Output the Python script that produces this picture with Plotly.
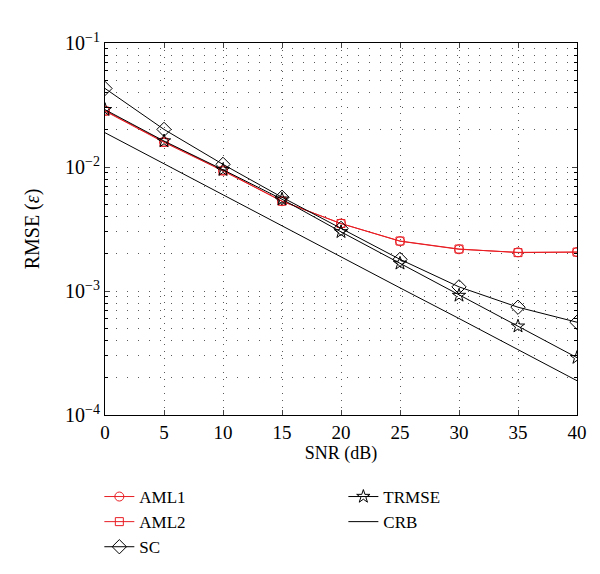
import plotly.graph_objects as go

snr = [0, 5, 10, 15, 20, 25, 30, 35, 40]
aml1 = [0.0285, 0.0160, 0.0094, 0.0053, 0.0035, 0.00252, 0.00217, 0.00205, 0.00206]
aml2 = [0.0282, 0.0158, 0.0093, 0.0053, 0.0035, 0.00253, 0.00218, 0.00204, 0.00206]
sc = [0.0430, 0.0201, 0.0105, 0.0057, 0.0032, 0.00180, 0.00108, 0.00074, 0.00056]
trmse = [0.0290, 0.0162, 0.0095, 0.0055, 0.0030, 0.00167, 0.00092, 0.00052, 0.00029]
crb = [0.0189, 0.0106, 0.0060, 0.00336, 0.00189, 0.00106, 0.00060, 0.000336, 0.000189]

xticks = [0, 5, 10, 15, 20, 25, 30, 35, 40]
yticks = [1e-4, 1e-3, 1e-2, 1e-1]
yticktext = ["10<sup>−4</sup>", "10<sup>−3</sup>", "10<sup>−2</sup>", "10<sup>−1</sup>"]

RED = "rgb(232,30,36)"
FONT = "Liberation Serif, Times New Roman, serif"
GRID = "rgb(90,90,90)"

fig = go.Figure()
fig.add_trace(go.Scatter(x=snr, y=aml1, name="AML1", mode="lines+markers",
                         line=dict(color=RED, width=1),
                         marker=dict(symbol="circle-open", size=9, color=RED, line=dict(width=1)),
                         legend="legend"))
fig.add_trace(go.Scatter(x=snr, y=aml2, name="AML2", mode="lines+markers",
                         line=dict(color=RED, width=1),
                         marker=dict(symbol="square-open", size=8, color=RED, line=dict(width=1)),
                         legend="legend"))
fig.add_trace(go.Scatter(x=snr, y=sc, name="SC", mode="lines+markers",
                         line=dict(color="black", width=1),
                         marker=dict(symbol="diamond-open", size=11, color="black", line=dict(width=1)),
                         legend="legend"))
fig.add_trace(go.Scatter(x=snr, y=trmse, name="TRMSE", mode="lines+markers",
                         line=dict(color="black", width=1),
                         marker=dict(symbol="star-open", size=10, color="black", line=dict(width=1)),
                         legend="legend2"))
fig.add_trace(go.Scatter(x=snr, y=crb, name="CRB", mode="lines",
                         line=dict(color="black", width=1),
                         legend="legend2"))

fig.update_layout(
    width=600, height=574,
    margin=dict(l=97, r=31, t=35, b=167),
    paper_bgcolor="white", plot_bgcolor="white",
    font=dict(family=FONT, size=18, color="black"),
    xaxis=dict(range=[0, 40], tickvals=xticks, ticks="inside", ticklen=5,
               tickfont=dict(size=19),
               showline=True, linecolor="black", linewidth=1, mirror="ticks",
               showgrid=True, gridcolor=GRID, griddash="1px,6px", gridwidth=1,
               zeroline=False, title=dict(text="SNR (dB)", standoff=0, font=dict(size=18))),
    yaxis=dict(type="log", range=[-4, -1], tickvals=yticks, ticktext=yticktext,
               ticks="inside", ticklen=5, tickfont=dict(size=20),
               showline=True, linecolor="black", linewidth=1, mirror="ticks",
               showgrid=True, gridcolor=GRID, griddash="1px,10px", gridwidth=1,
               minor=dict(dtick="D1", showgrid=True, gridcolor=GRID, griddash="1px,10px",
                          ticks="inside", ticklen=3, tickcolor="black"),
               zeroline=False, title=dict(text="RMSE (<i>ε</i>)", standoff=20, font=dict(size=20))),
    legend=dict(x=-0.012, y=-0.172, xanchor="left", yanchor="top", bgcolor="rgba(0,0,0,0)",
                font=dict(family=FONT, size=17), tracegroupgap=0),
    legend2=dict(x=0.505, y=-0.172, xanchor="left", yanchor="top", bgcolor="rgba(0,0,0,0)",
                 font=dict(family=FONT, size=17), tracegroupgap=0),
)

fig.write_html("out.html")
